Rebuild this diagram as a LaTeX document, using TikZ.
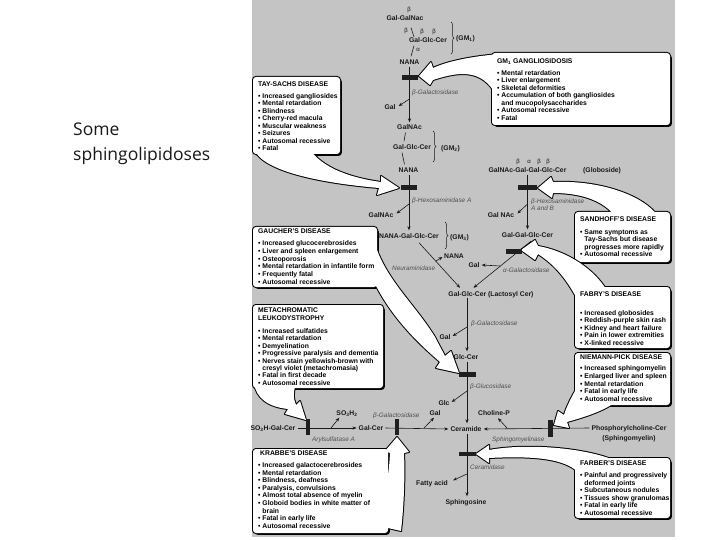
\documentclass[tikz,border=0pt]{standalone}
\usepackage{fontspec}
\setmainfont{Liberation Sans}
\newfontfamily\slidefont{Open Sans}
\usetikzlibrary{arrows.meta,decorations.pathreplacing}
\definecolor{panel}{RGB}{196,196,196}
\definecolor{ink}{RGB}{25,25,25}
\definecolor{enz}{RGB}{80,80,80}
\newcommand\bu{\textbullet\ }
\newcommand\cont{\phantom{\textbullet\ }}
\newcommand\blist[5]{%
  \foreach \itm [count=\i from 0] in {#5} {%
    \node[btxt] (#1-\i) at (#2,#3+\i*#4) {\itm};}}
\newcommand\callout[2]{%
  \fill[shadow] #2;
  \path[cstroke] #1; \path[cstroke, rounded corners=3pt] #2;
  \path[cfill] #1; \path[cfill, rounded corners=3pt] #2;}
\def\BR{670}
\begin{document}
\begin{tikzpicture}[x=1pt,y=-1pt,
  mol/.style={font=\fontsize{6.8}{8}\selectfont\bfseries, text=ink, inner sep=0pt, text height=5pt, text depth=0pt},
  greek/.style={font=\fontsize{6}{7}\selectfont, text=ink, inner sep=0pt},
  enzyme/.style={font=\fontsize{6.4}{7}\selectfont\itshape, text=enz, inner sep=0pt, anchor=west, text height=4.8pt, text depth=0pt},
  btxt/.style={font=\fontsize{6.8}{8}\selectfont\bfseries, text=black, inner sep=0pt, anchor=west, text height=5pt, text depth=0pt},
  bond/.style={draw=ink, line width=0.6pt},
  rx/.style={draw=ink, line width=0.6pt, -{Stealth[length=4pt,width=3.2pt]}},
  hbar/.style={fill=black!88, inner sep=0pt, minimum width=16pt, minimum height=5pt},
  vbar/.style={fill=black!88, inner sep=0pt, minimum width=4.5pt, minimum height=16pt},
  cstroke/.style={draw=black, line width=2pt, line join=round},
  cfill/.style={fill=white},
  shadow/.style={fill=black, rounded corners=3pt, shift={(1.8,1.8)}},
  brc/.style={draw=ink, line width=0.5pt, decorate, decoration={brace, amplitude=3pt}},
]
\useasboundingbox (0,0) rectangle (720,540);
\fill[white] (0,0) rectangle (720,540);
\fill[panel] (252,0) rectangle (675,537);

% slide title
\node[font=\slidefont\fontsize{17.5}{21}\selectfont, text=black!90, anchor=base west, inner sep=0pt] (s1) at (73,136) {Some};
\node[font=\slidefont\fontsize{17.5}{21}\selectfont, text=black!90, anchor=base west, inner sep=0pt] (s2) at (73,161) {sphingolipidoses};

% ---------- central pathway ----------
\node[greek] (gb0) at (409,10) {β};
\node[mol] (galgalnac) at (405,18) {Gal-GalNac};
\node[greek] (gb1) at (406,31) {β};
\node[greek] (gb2) at (422,32) {β};
\node[greek] (gb3) at (434,32) {β};
\node[mol] (gm1) at (428,40) {Gal-Glc-Cer};
\node[greek] (ga1) at (418,50) {α};
\node[mol] (nana1) at (409.5,62) {NANA};
\draw[bond] ([shift={(6,7)}]galgalnac.south) -- ([shift={(-14,-0.5)}]gm1.north);
\draw[bond] ([shift={(-14,3)}]gm1.south) -- ([shift={(1.5,-3)}]nana1.north);
\draw[brc] (451,22) -- (451,54);
\node[mol, anchor=west] (gm1lab) at (456,38) {(GM\textsubscript{1})};

\node[mol] (galnac1) at (409.5,127) {GalNAc};
\node[mol] (gal1) at (390,107) {Gal};
\draw[rx] ([shift={(0,2)}]nana1.south) -- ([shift={(0,-2)}]galnac1.north);
\coordinate (j1) at (409.5,99);
\draw[rx] (j1) -- ([shift={(3,-1)}]gal1.east);
\node[enzyme] (e1) at (412,92) {β-Galactosidase};

\node[mol] (gm2) at (412,147) {Gal-Glc-Cer};
\draw[bond] ([shift={(-4,3)}]galnac1.south) -- ([shift={(-8,-3)}]gm2.north);
\node[mol] (nana2) at (408.5,170) {NANA};
\draw[bond] ([shift={(-10,3)}]gm2.south) -- ([shift={(-4,-3)}]nana2.north);
\draw[brc] (433,131) -- (433,162);
\node[mol, anchor=west] (gm2lab) at (441,148) {(GM\textsubscript{2})};

\node[mol] (gm3) at (409,236) {NANA-Gal-Glc-Cer};
\draw[rx] ([shift={(0.5,2)}]nana2.south) -- ([shift={(0,-3)}]gm3.north);
\node[enzyme] (e2) at (412,200) {β-Hexosaminidase A};
\node[mol] (galnac2) at (381,215) {GalNAc};
\coordinate (j2) at (409,204);
\draw[rx] (j2) -- ([shift={(3,-1.5)}]galnac2.east);
\draw[brc] (445,222) -- (445,249);
\node[mol, anchor=west] (gm3lab) at (450,237) {(GM\textsubscript{3})};

\node[mol] (lacto) at (491,294) {Gal-Glc-Cer (Lactosyl Cer)};
\draw[rx] ([shift={(10,4)}]gm3.south) -- ([shift={(-31,-3.5)}]lacto.north);
\node[mol] (nana3) at (454,256) {NANA};
\coordinate (j3) at (436,261);
\draw[rx] (j3) -- ([shift={(-1.5,1)}]nana3.west);
\node[enzyme] (e3) at (392,268) {Neuraminidase};

% ---------- globoside branch ----------
\node[greek] (gg1) at (518,162) {β};
\node[greek] (gg2) at (529,162) {α};
\node[greek] (gg3) at (539,162) {β};
\node[greek] (gg4) at (548,162) {β};
\node[mol] (globo) at (527.5,170) {GalNAc-Gal-Gal-Glc-Cer};
\node[mol, anchor=west] (globolab) at (583,170) {(Globoside)};
\node[mol] (galgalglc) at (527.5,235) {Gal-Gal-Glc-Cer};
\draw[rx] ([shift={(0,2)}]globo.south) -- ([shift={(0,-3)}]galgalglc.north);
\node[enzyme] (e4) at (531,201) {β-Hexosaminidase};
\node[enzyme] (e4b) at (531,208) {A and B};
\node[mol] (galnac3) at (501,215) {Gal NAc};
\coordinate (j4) at (527.5,204);
\draw[rx] (j4) -- ([shift={(3,-1.5)}]galnac3.east);
\draw[rx] ([shift={(3.5,3.5)}]galgalglc.south) -- ([shift={(-17.5,-3.5)}]lacto.north);
\node[mol] (gal2) at (474,265) {Gal};
\coordinate (j5) at (500,266);
\draw[rx] (j5) -- ([shift={(2,0)}]gal2.east);
\node[enzyme] (e5) at (503,270) {α-Galactosidase};

% ---------- lower pathway ----------
\coordinate (lacS) at (467,297.5);
\node[mol] (glccer) at (466,357) {Glc-Cer};
\draw[rx] (lacS) -- ([shift={(1,-3)}]glccer.north);
\node[enzyme] (e6) at (471,323) {β-Galactosidase};
\node[mol] (gal3) at (445,337) {Gal};
\coordinate (j6) at (467,327);
\draw[rx] (j6) -- ([shift={(2,-1)}]gal3.east);
\node[mol] (cer) at (466,429) {Ceramide};
\draw[rx] ([shift={(1,2)}]glccer.south) -- ([shift={(1,-3)}]cer.north);
\node[enzyme] (e7) at (470,386) {β-Glucosidase};
\node[mol] (glc) at (444,403) {Glc};
\coordinate (j7) at (467,391);
\draw[rx] (j7) -- ([shift={(2,-1)}]glc.east);

\node[mol] (so3h) at (273,428) {SO\textsubscript{3}H-Gal-Cer};
\node[mol] (galcer) at (371,428) {Gal-Cer};
\draw[rx] ([shift={(2,0)}]so3h.east) -- ([shift={(-2,0)}]galcer.west);
\node[mol] (so3h2) at (347,413) {SO\textsubscript{3}H\textsubscript{2}};
\coordinate (j8) at (331,428);
\draw[rx] (j8) -- ([shift={(3,2)}]so3h2.south west);
\node[enzyme] (e8) at (312,439) {Arylsulfatase A};
\draw[rx] ([shift={(2,0)}]galcer.east) -- ([shift={(-2,0)}]cer.west);
\node[enzyme] (e9) at (373,415) {β-Galactosidase};
\node[mol] (gal4) at (435,413) {Gal};
\coordinate (j9) at (424,428);
\draw[rx] (j9) -- ([shift={(-1,2)}]gal4.south);

\node[mol] (phos) at (629,428) {Phosphorylcholine-Cer};
\node[mol] (sphm) at (629,438) {(Sphingomyelin)};
\draw[rx] ([shift={(-2,0)}]phos.west) -- ([shift={(2,0)}]cer.east);
\node[mol] (cholp) at (494,413) {Choline-P};
\coordinate (j10) at (507,428);
\draw[rx] (j10) -- ([shift={(4,2.5)}]cholp.south);
\node[enzyme] (e10) at (492,439) {Sphingomyelinase};

\node[mol] (sphgo) at (466,502) {Sphingosine};
\draw[rx] ([shift={(1,2)}]cer.south) -- ([shift={(1,-3)}]sphgo.north);
\node[enzyme] (e11) at (470,467) {Ceramidase};
\node[mol] (fatty) at (432,483) {Fatty acid};
\coordinate (j11) at (467,474);
\draw[rx] (j11) -- ([shift={(5,0)}]fatty.north east);

% ---------- call-outs ----------
% Tay-Sachs
\callout{(268,146) -- (254,149) .. controls (262,171) and (320,183) .. (379,188) -- (377,195) -- (399,188) -- (381,176) -- (381,182) .. controls (345,177) and (322,166) .. (310,150) -- (300,146) -- cycle}{(253,77) rectangle (340,154)}
% GM1
\callout{(505,62) -- (508,53.5) .. controls (480,55) and (450,60) .. (433,68) -- (431,62) -- (419,76) -- (430,85) -- (433,80) .. controls (455,73) and (478,68) .. (493,90) -- (505,88) -- cycle}{(492,53) rectangle (\BR,125)}
% Gaucher
\callout{(365,240) -- (372,232) .. controls (380,275) and (412,300) .. (435,337) .. controls (439,345) and (442,350) .. (445,356) -- (451,351) -- (459,373) -- (436,368) -- (440,362) .. controls (418,343) and (392,318) .. (374,282) -- cycle}{(253,227) rectangle (377,287)}
% Metachromatic leukodystrophy
\callout{(262,378) -- (254,383) .. controls (256,398) and (268,407) .. (288,409) -- (285,414) -- (306,420) -- (300,401) -- (296,405) .. controls (293,398) and (293,392) .. (297,380) -- cycle}{(253,305) rectangle (383,388)}
% Krabbe
\callout{(375,525) -- (401,531) .. controls (404,505) and (405,475) .. (404,453) -- (409,452) -- (397,437) -- (385,451) -- (390,453) .. controls (389,470) and (388,485) .. (380,495) -- cycle}{(253,449) rectangle (388,533)}
% Sandhoff
\callout{(630,225) -- (655,212.5) .. controls (640,195) and (600,180) .. (553,182) -- (551,177) -- (538,188) -- (552,198) -- (553,193) .. controls (580,193) and (600,200) .. (612,212.5) -- (615,225) -- cycle}{(575,212) rectangle (\BR,262)}
% Fabry
\callout{(595,300) -- (605,287.5) .. controls (590,265) and (562,250) .. (538,246) -- (535,240) -- (521,250) -- (535,260) -- (538,254) .. controls (550,262) and (562,272) .. (575.5,296) -- cycle}{(575,287) rectangle (\BR,348)}
% Niemann-Pick
\callout{(595,395) -- (575.5,390) .. controls (570,400) and (566,408) .. (564,415) -- (558,411) -- (554,425) -- (569,428) -- (567,422) .. controls (585,417) and (600,412) .. (612,404.5) -- cycle}{(575,353) rectangle (\BR,405)}
% Farber
\callout{(600,470) -- (610,458.5) .. controls (575,446) and (520,444) .. (489,450) -- (489,445) -- (476,454) -- (489,463) -- (489,458) .. controls (530,456) and (560,458) .. (575.5,470) -- cycle}{(575,458) rectangle (\BR,518)}

% ---------- box texts ----------
\node[btxt] (ts-t) at (258,84) {TAY-SACHS DISEASE};
\blist{ts}{258}{96}{7.5}{\bu Increased gangliosides,\bu Mental retardation,\bu Blindness,\bu Cherry-red macula,\bu Muscular weakness,\bu Seizures,\bu Autosomal recessive,\bu Fatal}

\node[btxt] (gm-t) at (497,61) {GM\textsubscript{1} GANGLIOSIDOSIS};
\blist{gm}{497}{73}{7.5}{\bu Mental retardation,\bu Liver enlargement,\bu Skeletal deformities,\bu Accumulation of both gangliosides,\cont and mucopolysaccharides,\bu Autosomal recessive,\bu Fatal}

\node[btxt] (ga-t) at (258,231) {GAUCHER'S DISEASE};
\blist{ga}{258}{243}{7.8}{\bu Increased glucocerebrosides,\bu Liver and spleen enlargement,\bu Osteoporosis,\bu Mental retardation in infantile form,\bu Frequently fatal,\bu Autosomal recessive}

\node[btxt] (ml-t1) at (258,310) {METACHROMATIC};
\node[btxt] (ml-t2) at (258,317.5) {LEUKODYSTROPHY};
\blist{ml}{258}{331}{7.4}{\bu Increased sulfatides,\bu Mental retardation,\bu Demyelination,\bu Progressive paralysis and dementia,\bu Nerves stain yellowish-brown with,\cont cresyl violet (metachromasia),\bu Fatal in first decade,\bu Autosomal recessive}

\node[btxt] (kr-t) at (260,453) {KRABBE'S DISEASE};
\blist{kr}{258}{465}{7.6}{\bu Increased galactocerebrosides,\bu Mental retardation,{\bu Blindness, deafness},{\bu Paralysis, convulsions},\bu Almost total absence of myelin,\bu Globoid bodies in white matter of,\cont brain,\bu Fatal in early life,\bu Autosomal recessive}

\node[btxt] (sh-t) at (580,219) {SANDHOFF'S DISEASE};
\blist{sh}{580}{232}{7.3}{\bu Same symptoms as,\cont Tay-Sachs but disease,\cont progresses more rapidly,\bu Autosomal recessive}

\node[btxt] (fa-t) at (580,294) {FABRY'S DISEASE};
\blist{fa}{580}{313}{7.4}{\bu Increased globosides,\bu Reddish-purple skin rash,\bu Kidney and heart failure,\bu Pain in lower extremities,\bu X-linked recessive}

\node[btxt] (np-t) at (580,357) {NIEMANN-PICK DISEASE};
\blist{np}{580}{368}{7.75}{\bu Increased sphingomyelin,\bu Enlarged liver and spleen,\bu Mental retardation,\bu Fatal in early life,\bu Autosomal recessive}

\node[btxt] (fb-t) at (580,463) {FARBER'S DISEASE};
\blist{fb}{580}{475}{7.6}{\bu Painful and progressively,\cont deformed joints,\bu Subcutaneous nodules,\bu Tissues show granulomas,\bu Fatal in early life,\bu Autosomal recessive}

% ---------- enzyme blocks ----------
\node[hbar] (bar1) at (409.5,77.5) {};
\node[hbar] (bar2) at (409,187.5) {};
\node[hbar, minimum width=19pt] (bar3) at (527.5,187.5) {};
\node[hbar] (bar4) at (514,251.5) {};
\node[hbar, minimum width=17pt] (bar5) at (467,374.5) {};
\node[vbar] (bar6) at (308,427) {};
\node[vbar] (bar7) at (397,427) {};
\node[vbar, minimum width=5pt, minimum height=17pt] (bar8) at (550.5,428.5) {};
\node[hbar, minimum width=17pt, minimum height=4.5pt] (bar9) at (467,454) {};
\end{tikzpicture}
\end{document}
